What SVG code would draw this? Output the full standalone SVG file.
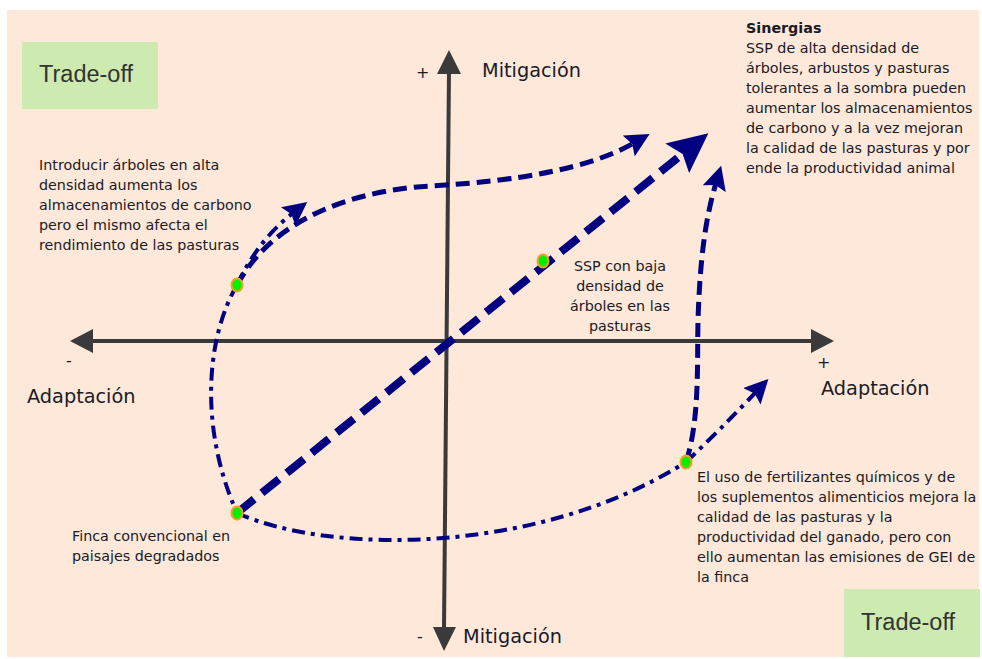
<svg xmlns="http://www.w3.org/2000/svg" width="982" height="659" viewBox="0 0 982 659">
<defs>
<style>
.t{font-family:"DejaVu Sans",Verdana,sans-serif;font-size:14.3px;fill:#1a1a26}
.lab{font-family:"DejaVu Sans",Verdana,sans-serif;font-size:19.3px;fill:#1a1a26}
.sign{font-family:"DejaVu Sans",sans-serif;font-size:16px;fill:#1a1a26}
.to{font-family:"Liberation Sans",Arial,sans-serif;font-size:23.5px;fill:#333}
.box{fill:#cdebb0}
.axis{stroke:#3a3a3a;stroke-width:4;fill:none}
.c{fill:none;stroke:#000080;stroke-linecap:butt}
.dash{stroke-width:5;stroke-dasharray:14 7}
.dd{stroke-width:4;stroke-dasharray:13 6 4 6}
.dot{fill:#00f000;stroke:#f5a020;stroke-width:2}
</style>
<marker id="ah" viewBox="0 0 24 24" markerWidth="24" markerHeight="24" refX="6" refY="12" orient="auto" markerUnits="userSpaceOnUse">
<path d="M0,0 L24,12 L0,24 L4,12 z" fill="#000080"/>
</marker>
<marker id="big" viewBox="0 0 40 38" markerWidth="40" markerHeight="38" refX="10" refY="19" orient="auto" markerUnits="userSpaceOnUse">
<path d="M0,0 L40,19 L0,38 L7,19 z" fill="#000080"/>
</marker>
</defs>
<rect x="7" y="10" width="972" height="647" fill="#fde8da"/>
<g id="tradeoff-tl"><rect class="box" x="22" y="42" width="136" height="67"/><text class="to" x="39" y="82">Trade-off</text></g>
<g id="tradeoff-br"><rect class="box" x="844" y="589" width="136" height="68"/><text class="to" x="861" y="630">Trade-off</text></g>
<g id="axes">
<line class="axis" x1="449" y1="70" x2="444" y2="630"/>
<polygon points="449,50 437,74 461,74" fill="#3a3a3a"/>
<polygon points="444,651 433,627 456,627" fill="#3a3a3a"/>
<line class="axis" x1="90" y1="341" x2="814" y2="341"/>
<polygon points="70,341 93,329 93,353" fill="#3a3a3a"/>
<polygon points="834,341 811,329 811,353" fill="#3a3a3a"/>
</g>
<g id="axis-labels">
<text class="sign" x="416" y="78">+</text>
<text class="lab" x="482" y="77">Mitigación</text>
<text class="sign" x="66" y="366">-</text>
<text class="lab" x="27" y="403">Adaptación</text>
<text class="sign" x="817" y="368">+</text>
<text class="lab" x="821" y="395">Adaptación</text>
<text class="sign" x="417" y="642">-</text>
<text class="lab" x="463" y="643">Mitigación</text>
</g>
<g id="connectors">
<path class="c" d="M237,513 L685,152" stroke-width="8" stroke-dasharray="22 10" marker-end="url(#big)"/>
<path class="c dash" d="M237,285 C275,215 360,190 430,186 C520,181 590,168 634,143" marker-end="url(#ah)"/>
<path class="c dd" d="M237,285 Q258,240 293,213" marker-end="url(#ah)"/>
<path class="c dd" d="M237,285 C205,340 200,430 237,513"/>
<path class="c dd" d="M237,513 C330,555 540,555 686,462"/>
<path class="c dd" d="M686,462 Q720,430 756,392" marker-end="url(#ah)"/>
<path class="c dash" d="M686,462 C700,420 697,360 698,320 C700,260 705,220 716,183" marker-end="url(#ah)"/>
</g>
<g id="dots">
<ellipse class="dot" cx="237" cy="285" rx="5.5" ry="6.5"/>
<ellipse class="dot" cx="543" cy="261" rx="5.5" ry="6.5"/>
<ellipse class="dot" cx="237" cy="513" rx="5.5" ry="6.5"/>
<ellipse class="dot" cx="686" cy="462" rx="5.5" ry="6.5"/>
</g>
<g id="note-introducir">
<text class="t" x="39" y="170">Introducir árboles en alta</text>
<text class="t" x="39" y="190">densidad aumenta los</text>
<text class="t" x="39" y="210">almacenamientos de carbono</text>
<text class="t" x="39" y="230">pero el mismo afecta el</text>
<text class="t" x="39" y="250">rendimiento de las pasturas</text>
</g>
<g id="note-sinergias">
<text class="t" x="746" y="33" font-weight="bold">Sinergias</text>
<text class="t" x="746" y="53">SSP de alta densidad de</text>
<text class="t" x="746" y="73">árboles, arbustos y pasturas</text>
<text class="t" x="746" y="93">tolerantes a la sombra pueden</text>
<text class="t" x="746" y="113">aumentar los almacenamientos</text>
<text class="t" x="746" y="133">de carbono y a la vez mejoran</text>
<text class="t" x="746" y="153">la calidad de las pasturas y por</text>
<text class="t" x="746" y="173">ende la productividad animal</text>
</g>
<g id="note-ssp-baja" text-anchor="middle">
<text class="t" x="620" y="271">SSP con baja</text>
<text class="t" x="620" y="291">densidad de</text>
<text class="t" x="620" y="311">árboles en las</text>
<text class="t" x="620" y="331">pasturas</text>
</g>
<g id="note-finca">
<text class="t" x="72" y="541">Finca convencional en</text>
<text class="t" x="72" y="561">paisajes degradados</text>
</g>
<g id="note-fertilizantes">
<text class="t" x="697" y="482">El uso de fertilizantes químicos y de</text>
<text class="t" x="697" y="502">los suplementos alimenticios mejora la</text>
<text class="t" x="697" y="522">calidad de las pasturas y la</text>
<text class="t" x="697" y="542">productividad del ganado, pero con</text>
<text class="t" x="697" y="562">ello aumentan las emisiones de GEI de</text>
<text class="t" x="697" y="582">la finca</text>
</g>
</svg>
